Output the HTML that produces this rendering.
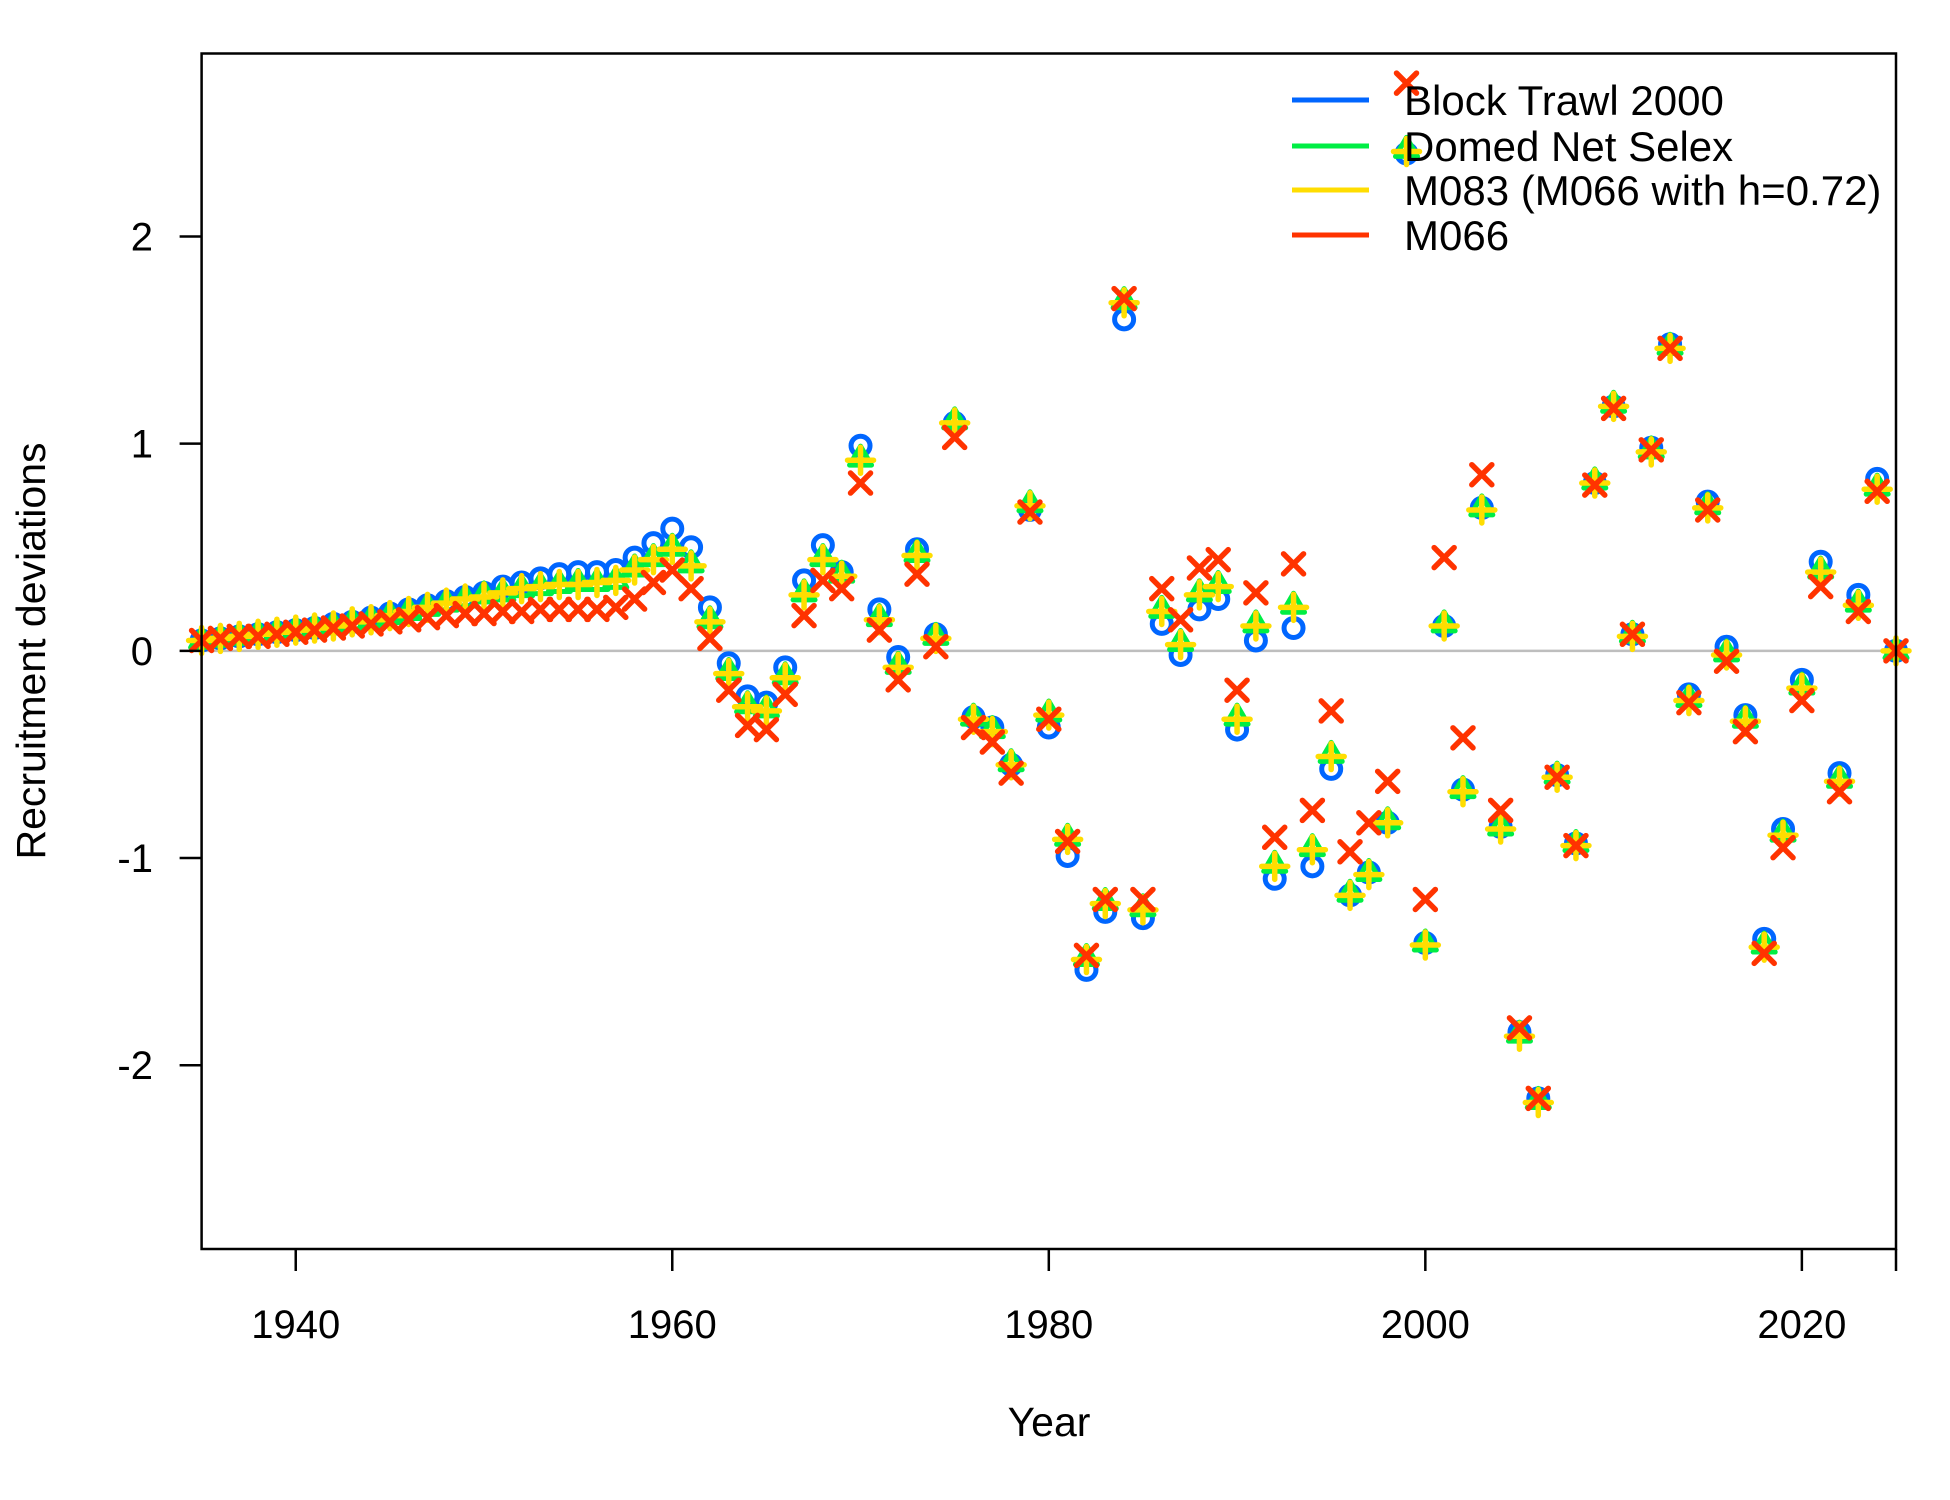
<!DOCTYPE html>
<html><head><meta charset="utf-8"><style>
html,body{margin:0;padding:0;background:#fff}
svg{display:block;font-family:"Liberation Sans",Arial,sans-serif}
</style></head><body>
<svg id="chart" width="1950" height="1500" viewBox="0 0 1950 1500" xmlns="http://www.w3.org/2000/svg">
<rect width="1950" height="1500" fill="#fff"/>
<g id="marks"></g>
<rect x="201.6" y="53.5" width="1694.4" height="1195.5" fill="none" stroke="#000" stroke-width="2.5"/>
<g id="axes"></g>
<text x="1049" y="1436" font-size="41" text-anchor="middle">Year</text>
<text transform="translate(45,651) rotate(-90)" font-size="41" text-anchor="middle">Recruitment deviations</text>
<g>
<g><line x1="1292" x2="1369" y1="100" y2="100" stroke="#0066ff" stroke-width="5"/><text x="1404" y="115" font-size="42">Block Trawl 2000</text></g>
<g><line x1="1292" x2="1369" y1="146" y2="146" stroke="#00ee44" stroke-width="5"/><text x="1404" y="161" font-size="42">Domed Net Selex</text></g>
<g><line x1="1292" x2="1369" y1="190" y2="190" stroke="#ffdd00" stroke-width="5"/><text x="1404" y="205" font-size="42">M083 (M066 with h=0.72)</text></g>
<g><line x1="1292" x2="1369" y1="235" y2="235" stroke="#ff3300" stroke-width="5"/><text x="1404" y="250" font-size="42">M066</text></g>
</g>
</svg>
<script>
const years = [];
for (let y = 1935; y <= 2025; y++) years.push(y);
const blockTrawl = [0.05,0.06,0.07,0.08,0.09,0.10,0.11,0.13,0.14,0.16,0.18,0.20,0.22,0.24,0.26,0.28,0.31,0.33,0.35,0.37,0.38,0.38,0.39,
0.45,0.52,0.59,0.50,0.21,-0.06,-0.22,-0.25,-0.08,0.34,0.51,0.38,0.99,0.20,-0.03,0.49,0.08,1.10,-0.32,-0.37,-0.55,0.68,-0.37,-0.99,-1.54,-1.26,1.60,-1.29,0.13,-0.02,0.20,0.25,-0.38,0.05,-1.10,0.11,-1.04,-0.57,-1.18,-1.07,-0.83,2.40,-1.41,0.12,-0.67,0.69,-0.85,-1.84,-2.16,-0.60,-0.93,0.81,1.18,0.08,0.98,1.48,-0.21,0.72,0.02,-0.31,-1.39,-0.86,-0.14,0.43,-0.59,0.27,0.83,0.0];
const domedNet = [0.05,0.06,0.07,0.08,0.09,0.10,0.11,0.12,0.14,0.15,0.17,0.19,0.21,0.23,0.25,0.27,0.28,0.30,0.31,0.32,0.33,0.33,0.34,
0.40,0.45,0.50,0.42,0.15,-0.10,-0.26,-0.28,-0.12,0.28,0.45,0.37,0.93,0.16,-0.07,0.47,0.07,1.11,-0.32,-0.38,-0.54,0.71,-0.30,-0.90,-1.48,-1.21,1.69,-1.24,0.20,0.04,0.28,0.32,-0.32,0.13,-1.03,0.22,-0.95,-0.50,-1.17,-1.07,-0.82,2.42,-1.41,0.13,-0.67,0.69,-0.85,-1.85,-2.17,-0.60,-0.93,0.82,1.19,0.08,0.97,1.47,-0.23,0.70,-0.01,-0.33,-1.42,-0.88,-0.17,0.39,-0.62,0.23,0.79,0.0];
const m083 = [0.05,0.06,0.07,0.08,0.09,0.10,0.11,0.12,0.14,0.15,0.17,0.19,0.21,0.23,0.25,0.26,0.28,0.30,0.31,0.32,0.32,0.33,0.34,
0.39,0.44,0.49,0.41,0.14,-0.11,-0.27,-0.29,-0.13,0.27,0.44,0.36,0.92,0.15,-0.08,0.46,0.06,1.10,-0.33,-0.39,-0.55,0.70,-0.31,-0.91,-1.49,-1.22,1.68,-1.25,0.19,0.03,0.27,0.31,-0.33,0.12,-1.04,0.21,-0.96,-0.51,-1.18,-1.08,-0.83,2.41,-1.42,0.12,-0.68,0.68,-0.86,-1.86,-2.18,-0.61,-0.94,0.81,1.18,0.07,0.96,1.46,-0.24,0.69,-0.02,-0.34,-1.43,-0.89,-0.18,0.38,-0.63,0.22,0.78,0.0];
const m066 = [0.05,0.06,0.07,0.07,0.08,0.09,0.10,0.11,0.12,0.13,0.14,0.15,0.16,0.17,0.18,0.18,0.19,0.19,0.20,0.20,0.20,0.20,0.21,
0.25,0.33,0.39,0.30,0.06,-0.19,-0.36,-0.38,-0.21,0.17,0.34,0.30,0.81,0.10,-0.14,0.37,0.02,1.03,-0.37,-0.44,-0.59,0.67,-0.33,-0.92,-1.47,-1.20,1.70,-1.20,0.30,0.15,0.40,0.44,-0.19,0.28,-0.90,0.42,-0.77,-0.29,-0.97,-0.83,-0.63,2.74,-1.20,0.45,-0.42,0.85,-0.77,-1.82,-2.16,-0.61,-0.94,0.80,1.17,0.08,0.97,1.46,-0.25,0.68,-0.05,-0.39,-1.46,-0.95,-0.24,0.31,-0.68,0.19,0.77,0.0];
const xTicks = [1940,1960,1980,2000,2020];
const yTicks = [-2,-1,0,1,2];

const X0=201.6, X1=1896, Y0=53.5, Y1=1249;
const xMin=1935, xMax=2025, yMin=-2.887, yMax=2.883;
const sx = v => X0 + (v-xMin)/(xMax-xMin)*(X1-X0);
const sy = v => Y1 - (v-yMin)/(yMax-yMin)*(Y1-Y0);
const NS="http://www.w3.org/2000/svg";
function mk(tag, attrs, parent){const e=document.createElementNS(NS,tag);for(const k in attrs)e.setAttribute(k,attrs[k]);parent.appendChild(e);return e;}
const marks=document.getElementById('marks');
const axes=document.getElementById('axes');

const zl = mk('line',{x1:X0,x2:X1,y1:sy(0),y2:sy(0),stroke:'#bebebe','stroke-width':2.5},marks);



const gB=mk('g',{fill:'none',stroke:'#0066ff','stroke-width':5},marks);


blockTrawl.forEach((v,i)=>{const c=mk('circle',{cx:sx(years[i]),cy:sy(v),r:9.5},gB);

});

const gG=mk('g',{fill:'none',stroke:'#00ee44','stroke-width':5,'stroke-linejoin':'round'},marks);


domedNet.forEach((v,i)=>{const x=sx(years[i]),y=sy(v);
const p=mk('polygon',{points:`${x},${y-12} ${x-11},${y+7} ${x+11},${y+7}`},gG);

});

const gY=mk('g',{fill:'none',stroke:'#ffdd00','stroke-width':5.5,'stroke-linecap':'round'},marks);


m083.forEach((v,i)=>{const x=sx(years[i]),y=sy(v),s=13;
const p=mk('path',{d:`M${x-s},${y}H${x+s}M${x},${y-s}V${y+s}`},gY);

});

const gR=mk('g',{fill:'none',stroke:'#ff3300','stroke-width':5.5,'stroke-linecap':'round'},marks);


m066.forEach((v,i)=>{const x=sx(years[i]),y=sy(v),s=10;
const p=mk('path',{d:`M${x-s},${y-s}L${x+s},${y+s}M${x-s},${y+s}L${x+s},${y-s}`},gR);

});

xTicks.concat([2025]).forEach(t=>{const l=mk('line',{x1:sx(t),x2:sx(t),y1:Y1,y2:Y1+22,stroke:'#000','stroke-width':2.5},axes);

});
xTicks.forEach(t=>{const tx=mk('text',{x:sx(t),y:1338,'font-size':40,'text-anchor':'middle'},axes);tx.textContent=t;

});
yTicks.forEach(t=>{const l=mk('line',{x1:X0-22,x2:X0,y1:sy(t),y2:sy(t),stroke:'#000','stroke-width':2.5},axes);


const tx=mk('text',{x:153,y:sy(t)+14,'font-size':40,'text-anchor':'end'},axes);tx.textContent=t;

});
</script>
</body></html>
